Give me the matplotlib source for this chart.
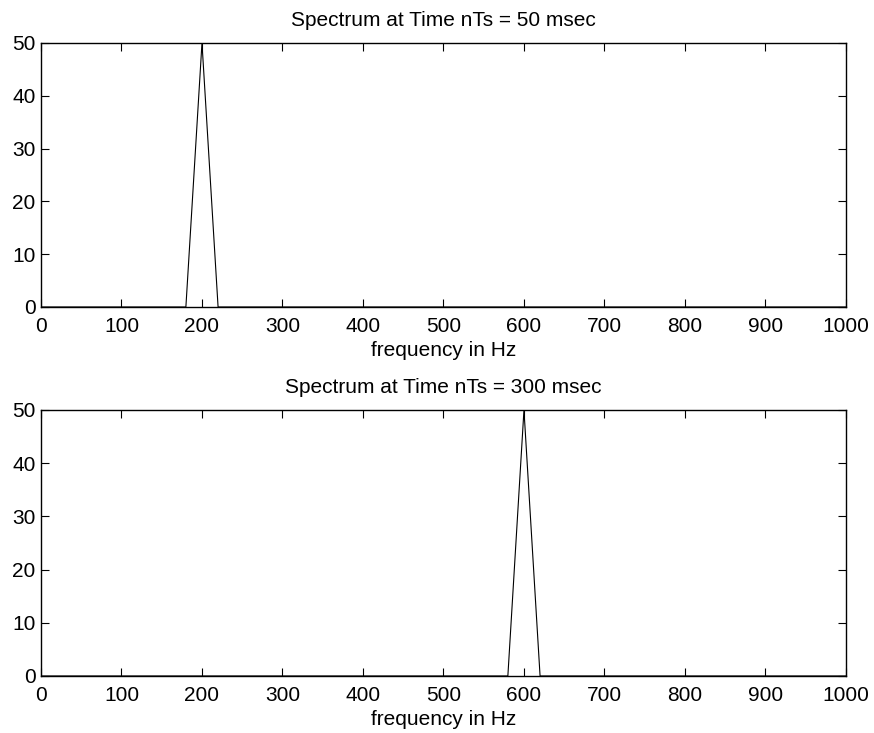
import matplotlib

matplotlib.use("Agg")
import matplotlib.pyplot as plt

plt.rcParams["font.family"] = ["Liberation Sans", "DejaVu Sans"]
plt.rcParams["font.size"] = 15

# spectrum samples (Hz, magnitude) at the two analysis times
freq_50ms = [0, 180, 200, 220, 1000]
mag_50ms = [0, 0, 50, 0, 0]
freq_300ms = [0, 580, 600, 620, 1000]
mag_300ms = [0, 0, 50, 0, 0]

titles = ["Spectrum at Time nTs = 50 msec", "Spectrum at Time nTs = 300 msec"]
x_ticks = [0, 100, 200, 300, 400, 500, 600, 700, 800, 900, 1000]
y_ticks = [0, 10, 20, 30, 40, 50]

figure = plt.figure(figsize=(8.74, 7.33), dpi=100)
boxes = [
    [0.0469, 0.5812, 0.921, 0.3602],
    [0.0469, 0.0778, 0.921, 0.3629],
]
series = [(freq_50ms, mag_50ms), (freq_300ms, mag_300ms)]

for box, (freqs, mags), title in zip(boxes, series, titles):
    axis = figure.add_axes(box)
    axis.plot(freqs, mags, color="black", linewidth=0.8)
    axis.set_xlim(0, 1000)
    axis.set_ylim(0, 50)
    axis.set_xticks(x_ticks)
    axis.set_yticks(y_ticks)
    axis.tick_params(direction="in", top=True, right=True, length=5.5, width=0.8)
    axis.tick_params(axis="x", pad=7.5)
    axis.tick_params(axis="y", pad=4)
    for spine in axis.spines.values():
        spine.set_linewidth(1.0)
    axis.set_title(title, fontsize=15, pad=12.5)
    axis.set_xlabel("frequency in Hz", labelpad=3)

figure.savefig("out.png", dpi=100)
